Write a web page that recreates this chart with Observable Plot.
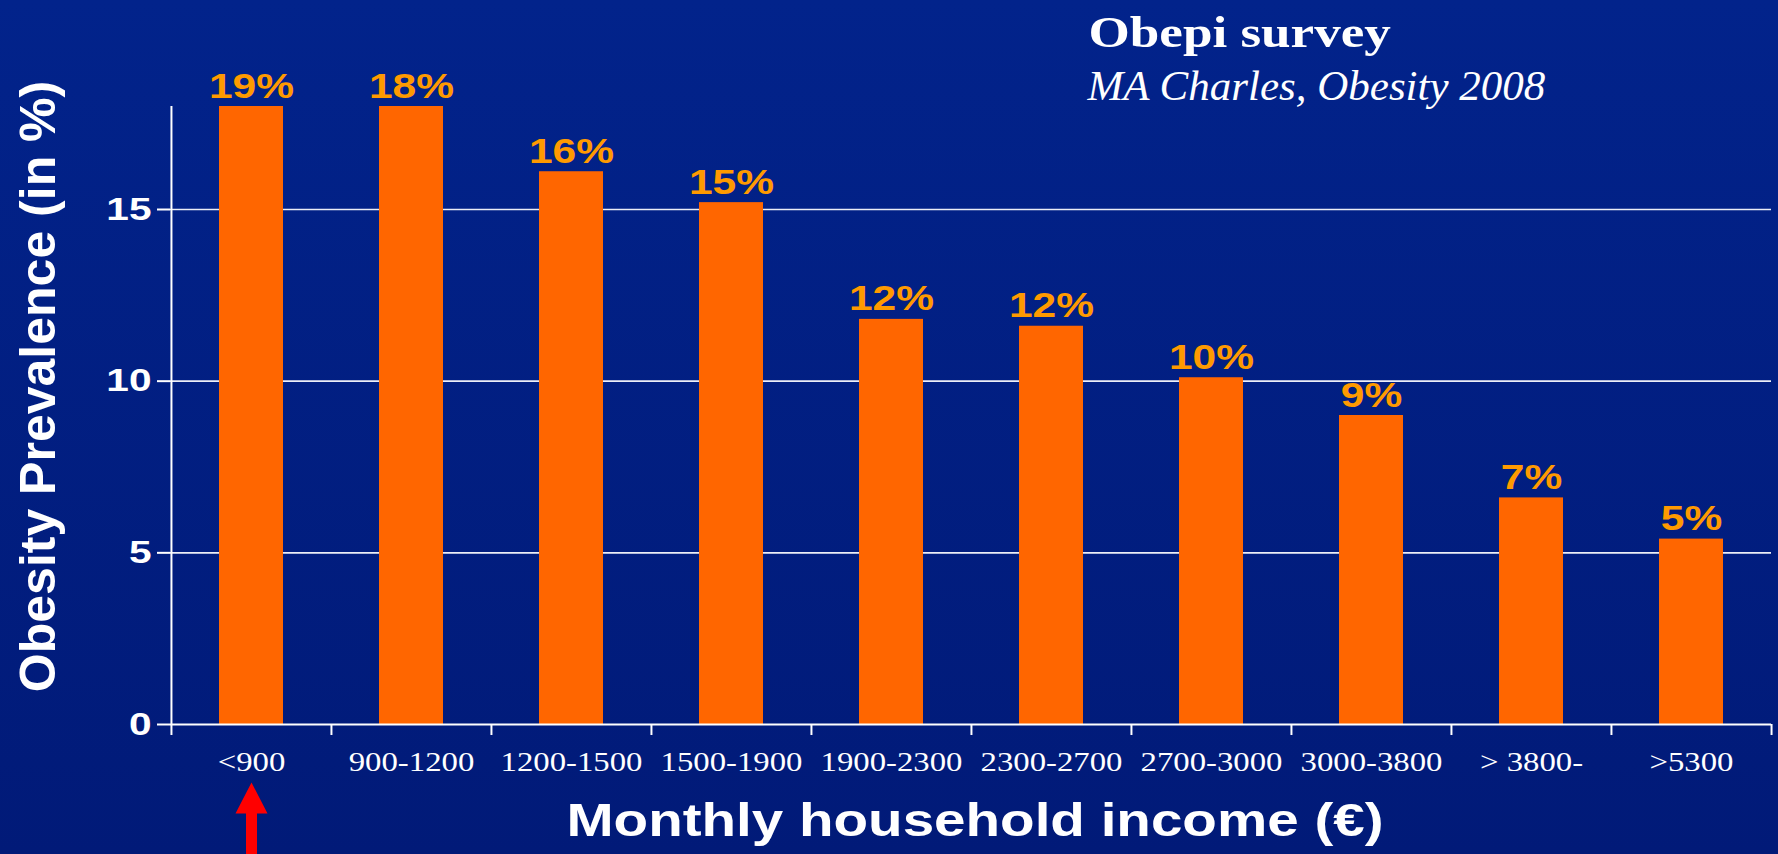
<!DOCTYPE html>
<html><head><meta charset="utf-8">
<script src="https://cdn.jsdelivr.net/npm/d3@7"></script>
<script src="https://cdn.jsdelivr.net/npm/@observablehq/plot@0.6"></script>
<style>
html,body{margin:0;padding:0;background:#011e84;}
#chart{width:1778px;height:854px;overflow:hidden;}
</style></head><body><div id="chart"></div>
<script>
// ---- data ----
const incomeBands = ["<900","900-1200","1200-1500","1500-1900","1900-2300","2300-2700","2700-3000","3000-3800","> 3800-",">5300"];
const prevalence = [18, 18, 16.1, 15.2, 11.8, 11.6, 10.1, 9.0, 6.6, 5.4];
const prevalenceLabels = ["19%","18%","16%","15%","12%","12%","10%","9%","7%","5%"];
const yTicks = [0, 5, 10, 15];
const highlighted = ["<900"];
const titleText = "Obepi survey";
const subtitleText = "MA Charles, Obesity 2008";
const xTitle = "Monthly household income (€)";
const yTitle = "Obesity Prevalence (in %)";

const data = incomeBands.map((band, i) => ({band, value: prevalence[i], label: prevalenceLabels[i]}));

// ---- layout ----
const W = 1778, H = 854, mL = 170, mR = 7, mT = 106, mB = 130;
const step = (W - mL - mR) / incomeBands.length;
const frameH = H - mT - mB;
const sans = "'Liberation Sans', Arial, Helvetica, sans-serif";
const serif = "'Liberation Serif', 'Times New Roman', Times, serif";

const arrowShape = {
  draw(ctx, l) {
    const hh = 31, hw = 16, sw = 5.5;
    ctx.moveTo(-sw, 0);
    ctx.lineTo(-sw, -(l - hh));
    ctx.lineTo(-hw, -(l - hh));
    ctx.lineTo(0, -l);
    ctx.lineTo(hw, -(l - hh));
    ctx.lineTo(sw, -(l - hh));
    ctx.lineTo(sw, 0);
    ctx.closePath();
  }
};

const tag = (name) => () => name;

const chart = Plot.plot({
  width: W, height: H,
  marginLeft: mL, marginRight: mR, marginTop: mT, marginBottom: mB,
  style: {background: "linear-gradient(#02238b, #011a78)", color: "white", fontFamily: sans, overflow: "visible"},
  x: {domain: incomeBands, paddingInner: 0.6, paddingOuter: 0.3, label: null},
  y: {domain: [0, 18], label: null},
  marks: [
    Plot.gridY(yTicks.filter(d => d > 0), {stroke: "#eceef6", strokeOpacity: 1, strokeWidth: 1.6}),
    Plot.barY(data, {x: "band", y: "value", fill: "#ff6600"}),
    Plot.ruleY([0], {stroke: "white", strokeWidth: 2}),
    // left axis line + band boundary ticks
    Plot.ruleX(incomeBands.slice(0, 1), {x: d => d, dx: -step / 2, insetBottom: -11, stroke: "white", strokeWidth: 2}),
    Plot.ruleX(incomeBands.slice(1), {x: d => d, dx: -step / 2, insetTop: frameH, insetBottom: -11, stroke: "white", strokeWidth: 2}),
    Plot.ruleX(incomeBands.slice(-1), {x: d => d, dx: step / 2, insetTop: frameH, insetBottom: -11, stroke: "white", strokeWidth: 2}),
    Plot.axisY({ticks: yTicks, tickSize: 13, tickPadding: 6, fontSize: 32, fontWeight: "bold", strokeWidth: 2, tickFormat: d => String(d)}),
    Plot.axisX({tickSize: 0, tickPadding: 27, fontSize: 28, fontFamily: serif}),
    Plot.text(data, {x: "band", y: "value", text: "label", dy: -9, lineAnchor: "bottom", fill: "#ff9a00", fontSize: 36, fontWeight: "bold", ariaLabel: tag("value label")}),
    Plot.text([xTitle], {frameAnchor: "bottom", textAnchor: "middle", dx: 4, dy: 111, lineAnchor: "bottom", fontSize: 46, fontWeight: "bold", fill: "white", ariaLabel: tag("x title")}),
    Plot.text([yTitle], {frameAnchor: "left", textAnchor: "middle", rotate: -90, dx: -116, dy: -29, lineAnchor: "bottom", fontSize: 50, fontWeight: "bold", fill: "white", ariaLabel: tag("y title")}),
    Plot.text([titleText], {frameAnchor: "top-left", dx: 918, dy: -60, textAnchor: "start", lineAnchor: "bottom", fontSize: 45, fontWeight: "bold", fontFamily: serif, fill: "white", ariaLabel: tag("chart title")}),
    Plot.text([subtitleText], {frameAnchor: "top-left", dx: 917, dy: -7, textAnchor: "start", lineAnchor: "bottom", fontSize: 43, fontStyle: "italic", fontFamily: serif, fill: "white", ariaLabel: tag("chart subtitle")}),
    Plot.vector(highlighted, {x: d => d, frameAnchor: "bottom", dy: 131, anchor: "start", length: 73, shape: arrowShape, fill: "#ff0000", stroke: "none"})
  ]
});

document.getElementById("chart").appendChild(chart);

// horizontal widening of text, as in the original slide
function stretch(selector, sx) {
  chart.querySelectorAll(selector).forEach(t => {
    const tr = t.getAttribute("transform");
    if (tr && tr.includes("translate")) {
      t.setAttribute("transform", tr + ` scale(${sx},1)`);
    } else {
      const x = parseFloat(t.getAttribute("x")) || 0;
      t.removeAttribute("x");
      t.setAttribute("transform", `translate(${x},0) scale(${sx},1)`);
    }
  });
}
stretch('g[aria-label="y-axis tick label"] text', 1.27);
stretch('g[aria-label="x-axis tick label"] text', 1.17);
stretch('text[aria-label="value label"]', 1.18);
stretch('text[aria-label="x title"]', 1.23);
stretch('text[aria-label="chart title"]', 1.18);
</script>
</body></html>
